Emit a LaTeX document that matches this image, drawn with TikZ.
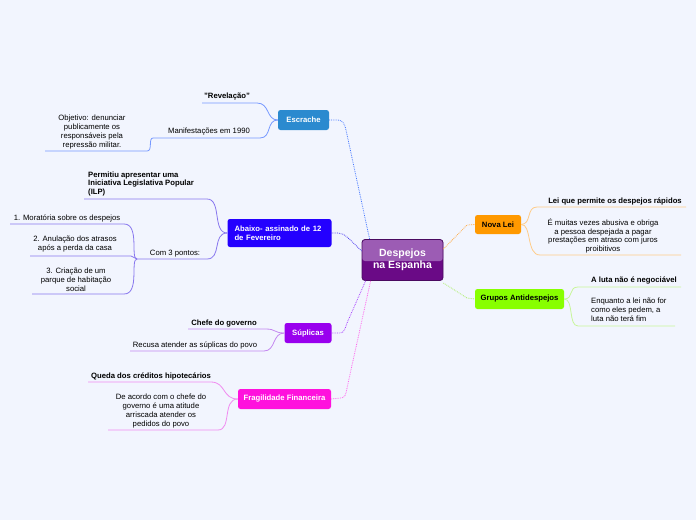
\documentclass[tikz,border=0pt]{standalone}
\usepackage{fontspec}
\setmainfont{Liberation Sans}
\usetikzlibrary{calc}
\definecolor{bg}{HTML}{F2F5FE}
\definecolor{cEsc}{HTML}{2B8ACF}
\definecolor{lEsc}{HTML}{4477FF}
\definecolor{kEsc}{HTML}{7799FF}
\definecolor{cAba}{HTML}{2400FF}
\definecolor{lAba}{HTML}{4433EE}
\definecolor{kAba}{HTML}{8877EE}
\definecolor{cSup}{HTML}{9900EE}
\definecolor{lSup}{HTML}{AA44FF}
\definecolor{kSup}{HTML}{C488F0}
\definecolor{cFra}{HTML}{FF11DD}
\definecolor{lFra}{HTML}{FF66EE}
\definecolor{kFra}{HTML}{F08CF0}
\definecolor{cNov}{HTML}{FF9900}
\definecolor{lNov}{HTML}{FFAA44}
\definecolor{kNov}{HTML}{FFCC88}
\definecolor{cGru}{HTML}{88FF00}
\definecolor{lGru}{HTML}{AAEE66}
\definecolor{kGru}{HTML}{C8F59A}
\definecolor{ctop}{HTML}{9C5CB4}
\definecolor{cbot}{HTML}{6A0A86}
\definecolor{cbrd}{HTML}{4A0A60}
\tikzset{
  mainbox/.style={rounded corners=2.5pt, inner sep=0pt, font=\fontsize{7.7}{9}\selectfont\bfseries},
  leaf/.style={inner sep=0pt, font=\fontsize{7.7}{8.9}\selectfont, align=center},
  leafb/.style={inner sep=0pt, font=\fontsize{7.7}{8.9}\selectfont\bfseries, align=center},
  link/.style={densely dotted, line width=0.8pt},
  sub/.style={line width=0.8pt}
}
\begin{document}
\begin{tikzpicture}[x=1pt,y=-1pt]
\useasboundingbox (0,0) rectangle (696,520);
\fill[bg] (0,0) rectangle (696,520);

% central
\node[draw=cbrd, line width=0.8pt, fill=cbot, rounded corners=3pt, minimum width=81pt, minimum height=41pt, inner sep=0pt,
  path picture={\fill[ctop] (path picture bounding box.north west) rectangle ($(path picture bounding box.east)+(0,1)$);},
  text=white, font=\fontsize{10.5}{12.5}\selectfont\bfseries, align=center] (C) at (402.5,260) {Despejos\\na Espanha};

% main branches
\node[mainbox, fill=cEsc, text=white, minimum width=51pt, minimum height=20pt] (E) at (303.5,120) {Escrache};
\node[mainbox, fill=cAba, text=white, minimum width=104pt, minimum height=28pt, text width=90pt, align=left] (A) at (279.5,233) {Abaixo- assinado de 12\\de Fevereiro};
\node[mainbox, fill=cSup, text=white, minimum width=47pt, minimum height=20pt] (S) at (308,333) {Súplicas};
\node[mainbox, fill=cFra, text=white, minimum width=93pt, minimum height=20pt] (F) at (284.5,399) {Fragilidade Financeira};
\node[mainbox, fill=cNov, text=black, minimum width=46pt, minimum height=19pt] (N) at (498,224.5) {Nova Lei};
\node[mainbox, fill=cGru, text=black, minimum width=89pt, minimum height=20pt] (G) at (519.5,299) {Grupos Antidespejos};

% central links
\draw[link, lEsc] (E.east) -- (338,120) .. controls (343,120) and (345,125) .. (346,130) -- ($(C.north west)+(8,0)$);
\draw[link, lAba] (A.east) -- (338,233) .. controls (345,233) and (350,240) .. ($(C.west)+(0,-9)$);
\draw[link, lSup] (S.east) -- (340,333) .. controls (344,333) and (345,329) .. (347,323) -- ($(C.south west)+(4,0)$);
\draw[link, lFra] (F.east) -- (341,398) .. controls (345,398) and (346,394) .. (347,388) -- ($(C.south west)+(9,0)$);
\draw[link, lNov] ($(C.east)+(0,-11)$) -- (467,225) -- (N.west);
\draw[link, lGru] ($(C.east)+(0,23)$) -- (467,298) -- (G.west);

% Escrache children
\node[leafb] (e1) at (227,97) {"Revelação"};
\node[leaf] (e2) at (209,132) {Manifestações em 1990};
\node[leaf] (e3) at (92,132) {Objetivo: denunciar\\publicamente os\\responsáveis pela\\repressão militar.};
\coordinate (e1l) at (202,103); \coordinate (e1r) at (257,103);
\coordinate (e2l) at (153,138); \coordinate (e2r) at (260,138);
\coordinate (e3l) at (45,151); \coordinate (e3r) at (147,151);
\draw[sub, kEsc] (e1l) -- (e1r) .. controls (270,103) and (266,120) .. (E.west);
\draw[sub, kEsc] (e2l) -- (e2r) .. controls (272,138) and (266,120) .. (E.west);
\draw[sub, kEsc] (e3l) -- (e3r) .. controls (153,151) and (148,138) .. (e2l);

% Abaixo children
\node[leafb, align=left, anchor=west] (a1) at (88,184) {Permitiu apresentar uma\\Iniciativa Legislativa Popular\\(ILP)};
\node[leaf] (a2) at (175,254) {Com 3 pontos:};
\node[leaf] (a3) at (67,218) {1. Moratória sobre os despejos};
\node[leaf] (a4) at (75,244) {2. Anulação dos atrasos\\após a perda da casa};
\node[leaf] (a5) at (76,280) {3. Criação de um\\parque de habitação\\social};
\coordinate (a1l) at (84,199); \coordinate (a1r) at (207,199);
\coordinate (a2l) at (137,259); \coordinate (a2r) at (207,259);
\coordinate (a3l) at (10,224); \coordinate (a3r) at (124,224);
\coordinate (a4l) at (30,256); \coordinate (a4r) at (131,256);
\coordinate (a5l) at (32,294); \coordinate (a5r) at (124,294);
\draw[sub, kAba] (a1l) -- (a1r) .. controls (222,199) and (212,233) .. (A.west);
\draw[sub, kAba] (a2l) -- (a2r) .. controls (222,259) and (212,233) .. (A.west);
\draw[sub, kAba] (a3l) -- (a3r) .. controls (140,224) and (130,259) .. (a2l);
\draw[sub, kAba] (a4l) -- (a4r) .. controls (134,256) and (134,259) .. (a2l);
\draw[sub, kAba] (a5l) -- (a5r) .. controls (140,294) and (130,259) .. (a2l);

% Súplicas children
\node[leafb] (s1) at (224,323.5) {Chefe do governo};
\node[leaf] (s2) at (195,345) {Recusa atender as súplicas do povo};
\coordinate (s1l) at (188,329); \coordinate (s1r) at (266,329);
\coordinate (s2l) at (130,351); \coordinate (s2r) at (264,351);
\draw[sub, kSup] (s1l) -- (s1r) .. controls (276,329) and (274,333) .. (S.west);
\draw[sub, kSup] (s2l) -- (s2r) .. controls (276,351) and (272,333) .. (S.west);

% Fragilidade children
\node[leafb] (f1) at (151,376) {Queda dos créditos hipotecários};
\node[leaf] (f2) at (161,411) {De acordo com o chefe do\\governo é uma atitude\\arriscada atender os\\pedidos do povo};
\coordinate (f1l) at (88,382); \coordinate (f1r) at (211,382);
\coordinate (f2l) at (108,430); \coordinate (f2r) at (218,430);
\draw[sub, kFra] (f1l) -- (f1r) .. controls (226,382) and (222,399) .. (F.west);
\draw[sub, kFra] (f2l) -- (f2r) .. controls (232,430) and (222,399) .. (F.west);

% Nova Lei children
\node[leafb] (n1) at (615,201) {Lei que permite os despejos rápidos};
\node[leaf] (n2) at (603,236) {É muitas vezes abusiva e obriga\\a pessoa despejada a pagar\\prestações em atraso com juros\\proibitivos};
\coordinate (n1l) at (537,207); \coordinate (n1r) at (686,207);
\coordinate (n2l) at (540,255); \coordinate (n2r) at (681,255);
\draw[sub, kNov] (N.east) .. controls (532,224) and (526,207) .. (n1l) -- (n1r);
\draw[sub, kNov] (N.east) .. controls (532,224) and (526,255) .. (n2l) -- (n2r);

% Grupos children
\node[leafb, anchor=west] (g1) at (591,280) {A luta não é negociável};
\node[leaf, align=left, anchor=west] (g2) at (591,310) {Enquanto a lei não for\\como eles pedem, a\\luta não terá fim};
\coordinate (g1l) at (578,287); \coordinate (g1r) at (681,287);
\coordinate (g2l) at (578,326); \coordinate (g2r) at (675,326);
\draw[sub, kGru] (G.east) .. controls (574,299) and (568,287) .. (g1l) -- (g1r);
\draw[sub, kGru] (G.east) .. controls (574,299) and (568,326) .. (g2l) -- (g2r);
\end{tikzpicture}
\end{document}
